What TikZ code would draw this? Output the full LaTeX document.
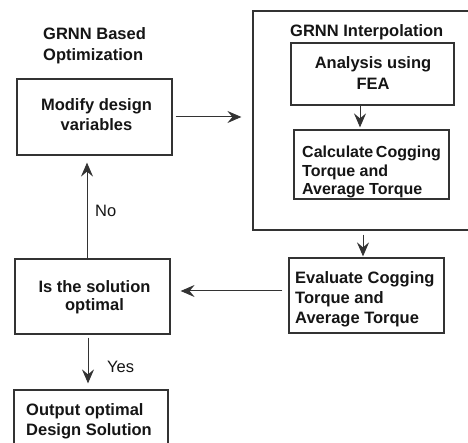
\documentclass[tikz,border=0pt]{standalone}
\usepackage{fontspec}
\setmainfont{Liberation Sans}
\usetikzlibrary{arrows.meta}
\definecolor{ln}{HTML}{333333}
\definecolor{tx}{HTML}{151515}
\begin{document}
\begin{tikzpicture}[x=1pt,y=-1pt,
  box/.style={draw=ln, line width=1.2pt, inner sep=0pt, fill=none},
  txt/.style={inner sep=0pt, text=tx, font=\bfseries\fontsize{16.5}{20}\selectfont},
  lbl/.style={inner sep=0pt, text=tx, font=\fontsize{16.5}{20}\selectfont, anchor=base west},
  conn/.style={draw=ln, line width=1pt, -{Stealth[length=14pt,width=12pt,inset=5pt]}}
]
\useasboundingbox (0,0) rectangle (468,443);
\clip (0,0) rectangle (468,443);
\fill[white] (0,0) rectangle (468,443);

% title
\node[txt, anchor=north west, align=left, font=\bfseries\fontsize{16.5}{21}\selectfont] (title) at (43,27) {GRNN Based\\Optimization};

% left column boxes
\node[box, minimum width=155pt, minimum height=76pt] (modify) at (94.5,117) {};
\node[txt, align=center] (modifyt) at (96.5,114.5) {Modify design\\variables};

\node[box, minimum width=155pt, minimum height=75pt] (solution) at (92.5,296.5) {};
\node[txt, align=center, font=\bfseries\fontsize{16.5}{18}\selectfont] (solutiont) at (94.5,297) {Is the solution\\optimal};

\node[box, minimum width=154pt, minimum height=80pt] (output) at (91,430) {};
\node[txt, anchor=north west, align=left] (outputt) at (26,403) {Output optimal\\Design Solution};

% right column
\node[box, minimum width=227pt, minimum height=219pt] (outer) at (366.5,120.5) {};
\node[txt, anchor=north west] (outert) at (290,24) {GRNN Interpolation};

\node[box, minimum width=163pt, minimum height=62pt] (analysis) at (372.5,74) {};
\node[txt, align=center, font=\bfseries\fontsize{16.5}{21}\selectfont] (analysist) at (373,73.5) {Analysis using\\FEA};

\node[box, minimum width=155pt, minimum height=69pt] (calc) at (371.5,164.5) {};
\node[txt, anchor=north west, align=left, font=\bfseries\fontsize{16}{18.5}\selectfont] (calct) at (302,146) {Calculate\,Cogging\\Torque and\\Average Torque};

\node[box, minimum width=155pt, minimum height=75pt] (eval) at (366.5,295.5) {};
\node[txt, anchor=north west, align=left] (evalt) at (295,271) {Evaluate Cogging\\Torque and\\Average Torque};

% connectors
\draw[conn, shorten <=3pt, shorten >=11pt] (modify.east) -- (modify.east -| outer.west);
\draw[conn, shorten >=2pt] ([xshift=-12.5pt]analysis.south) -- ([xshift=-12.5pt]analysis.south |- calc.north);
\draw[conn, shorten <=4pt, shorten >=1pt] ([xshift=-3.5pt]outer.south) -- ([xshift=-3.5pt]outer.south |- eval.north);
\draw[conn, shorten <=6pt, shorten >=10pt] ([yshift=4.5pt]eval.west) -- ([yshift=4.5pt]eval.west -| solution.east);
\draw[conn, shorten >=7pt] ([xshift=-5.5pt]solution.north) -- ([xshift=-5.5pt]solution.north |- modify.south);
\draw[conn, shorten <=3pt, shorten >=6pt] ([xshift=-4.5pt]solution.south) -- ([xshift=-4.5pt]solution.south |- output.north);

% labels
\node[lbl] (no) at (95,217) {No};
\node[lbl] (yes) at (107,372) {Yes};
\end{tikzpicture}
\end{document}
